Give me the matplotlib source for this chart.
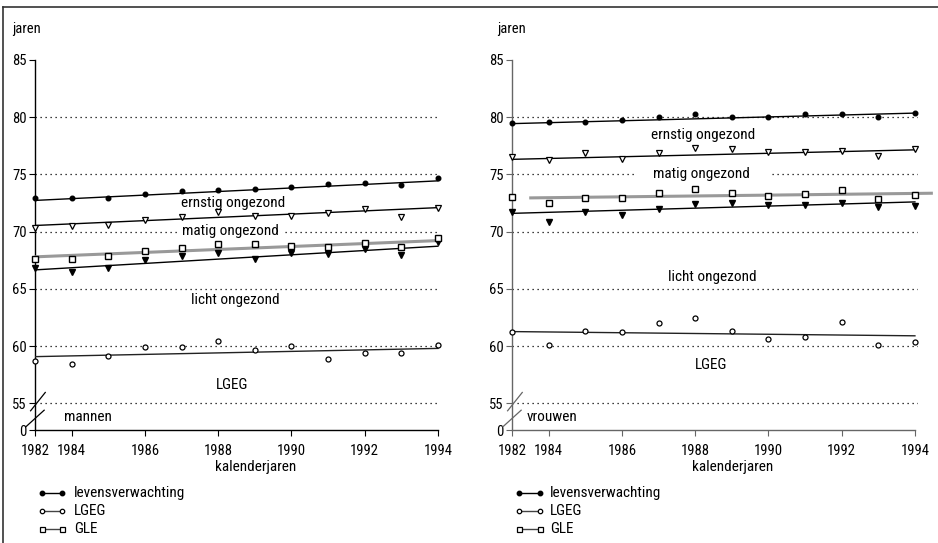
import matplotlib
matplotlib.use("Agg")
import matplotlib.pyplot as plt
from matplotlib.lines import Line2D
from matplotlib import font_manager

names = {f.name for f in font_manager.fontManager.ttflist}
chosen = 'Liberation Sans'
for cand in ['Roboto Condensed', 'Liberation Sans Narrow', 'Archivo Narrow', 'PT Sans Narrow']:
    if cand in names:
        chosen = cand
        break
plt.rcParams['font.family'] = [chosen, 'DejaVu Sans']

# ---------------- data ----------------
years = [1982, 1984, 1985, 1986, 1987, 1988, 1989, 1990, 1991, 1992, 1993, 1994]
tick_years = [1982, 1984, 1986, 1988, 1990, 1992, 1994]
ytick_values = [55, 60, 65, 70, 75, 80, 85]
grid_values = [55, 60, 65, 70, 75, 80]

men_le = [72.90, 72.98, 72.91, 73.25, 73.54, 73.63, 73.76, 73.87, 74.13, 74.25, 74.05, 74.68]
men_ernstig = [70.30, 70.50, 70.54, 70.98, 71.27, 71.72, 71.33, 71.39, 71.63, 71.98, 71.27, 72.07]
men_matig = [66.81, 66.48, 66.81, 67.49, 67.87, 68.11, 67.63, 68.17, 68.08, 68.52, 67.93, 69.06]
men_gle = [67.64, 67.58, 67.85, 68.29, 68.56, 68.88, 68.88, 68.76, 68.65, 69.00, 68.70, 69.44]
men_lgeg = [58.72, 58.40, 59.14, 59.96, 59.95, 60.48, 59.62, 60.00, 58.84, 59.43, 59.43, 60.13]

women_le = [79.50, 79.60, 79.60, 79.73, 80.06, 80.25, 80.05, 80.05, 80.26, 80.26, 80.03, 80.35]
women_ernstig = [76.53, 76.25, 76.84, 76.37, 76.85, 77.35, 77.18, 76.94, 76.94, 77.08, 76.63, 77.20]
women_matig = [71.70, 70.85, 71.70, 71.42, 72.01, 72.40, 72.52, 72.32, 72.30, 72.54, 72.13, 72.28]
women_gle = [73.00, 72.51, 72.92, 72.92, 73.42, 73.74, 73.42, 73.12, 73.25, 73.68, 72.86, 73.18]
women_lgeg = [61.22, 60.10, 61.34, 61.22, 62.00, 62.42, 61.34, 60.62, 60.82, 62.13, 60.10, 60.36]

# trend lines (value at first and last end)
men_trend = {'le': [72.73, 74.44], 'ernstig': [70.54, 72.10], 'matig': [66.66, 68.73],
             'gle': [67.80, 69.22], 'lgeg': [59.08, 59.80]}
women_trend = {'le': [79.44, 80.36], 'ernstig': [76.32, 77.15], 'matig': [71.60, 72.60],
               'gle': [72.95, 73.36], 'lgeg': [61.27, 60.90]}

# ---------------- figure ----------------
W, H = 938, 543
fig = plt.figure(figsize=(W / 100, H / 100), dpi=100)

YBOT = 52.67
FS = 10
LFS = 11

def px(x, y):
    return x / W, 1 - y / H

# border
fig.add_artist(Line2D([3 / W, 1], [1 - 7 / H, 1 - 7 / H], transform=fig.transFigure, color='#333333', lw=1.2))
fig.add_artist(Line2D([3 / W, 3 / W], [0, 1 - 7 / H], transform=fig.transFigure, color='#333333', lw=1.2))


def panel(left_px, xmax, spine_color, le, ern, mat, gle, lgeg, trend, gle_span, labels, sex_label):
    n = len(years)
    idx = list(range(n))
    width_px = xmax * 36.63
    ax = fig.add_axes([left_px / W, 113 / H, width_px / W, 370 / H])
    ax.set_xlim(0, xmax)
    ax.set_ylim(YBOT, 85)
    for s in ['top', 'right']:
        ax.spines[s].set_visible(False)
    ax.spines['left'].set_color(spine_color)
    ax.spines['bottom'].set_color(spine_color)
    ax.spines['left'].set_linewidth(1.0)
    ax.spines['bottom'].set_linewidth(1.0)
    ax.spines['bottom'].set_bounds(0, n - 1)
    ax.set_xticks([years.index(y) for y in tick_years])
    ax.set_xticklabels([str(y) for y in tick_years], fontsize=FS + 0.5)
    ax.set_yticks([YBOT] + ytick_values)
    ax.set_yticklabels(['0'] + [str(v) for v in ytick_values], fontsize=FS + 0.5)
    ax.tick_params(axis='both', length=4, width=0.8, color=spine_color, pad=2)
    ax.tick_params(axis='x', pad=6)
    ax.set_facecolor('none')

    for g in grid_values:
        ax.plot([0, xmax], [g, g], ls=(0, (1, 3)), color='black', lw=0.9, zorder=1)

    # trend lines
    end = n - 1
    ax.plot([0, end], trend['le'], color='black', lw=1.0, zorder=3)
    ax.plot([0, end], trend['ernstig'], color='black', lw=1.0, zorder=3)
    ax.plot([0, end], trend['matig'], color='black', lw=1.0, zorder=3)
    ax.plot(gle_span, trend['gle'], color='#999999', lw=2.2, zorder=3, solid_capstyle='butt', clip_on=False)
    ax.plot([0, end], trend['lgeg'], color='#222222', lw=1.0, zorder=3)

    ax.plot(idx, le, 'o', ms=3.3, color='black', zorder=5, clip_on=False)
    ax.plot(idx, ern, 'v', ms=3.8, mfc='white', mec='black', mew=0.9, zorder=5, clip_on=False)
    ax.plot(idx, mat, 'v', ms=3.8, color='black', zorder=5, clip_on=False)
    ax.plot(idx, gle, 's', ms=4.4, mfc='white', mec='black', mew=1.0, zorder=5, clip_on=False)
    ax.plot(idx, lgeg, 'o', ms=3.6, mfc='white', mec='black', mew=0.9, zorder=5, clip_on=False)

    for (txt, x, y, pad) in labels:
        kw = {}
        if pad is not None:
            kw['bbox'] = dict(facecolor='white', edgecolor='none', pad=pad)
        ax.text(x, y, txt, ha='center', va='center', fontsize=LFS, zorder=2, **kw)
    ax.text(sex_label[0], 53.83, sex_label[1], ha='left', va='center', fontsize=LFS)

    # axis break marks
    for (x0, y0, x1, y1) in [(-0.12, 54.35, 0.28, 55.95), (-0.25, 52.95, 0.25, 54.4)]:
        ax.plot([x0, x1], [y0, y1], color=spine_color, lw=0.9, clip_on=False, zorder=6)
    return ax


axL = panel(35, 11.05, 'black', men_le, men_ernstig, men_matig, men_gle, men_lgeg, men_trend, [0, 11],
            [('ernstig ongezond', 5.4, 72.5, None), ('matig ongezond', 5.33, 70.1, 3),
             ('licht ongezond', 5.48, 64.0, None), ('LGEG', 5.39, 56.6, None)], (0.79, 'mannen'))
axR = panel(512, 11.08, '#666666', women_le, women_ernstig, women_matig, women_gle, women_lgeg, women_trend, [0.47, 11.49],
            [('ernstig ongezond', 5.23, 78.45, None), ('matig ongezond', 5.17, 75.0, 14),
             ('licht ongezond', 5.46, 66.0, None), ('LGEG', 5.43, 58.34, None)], (0.4, 'vrouwen'))

# y-axis title and x-axis title
for xl in [12, 497]:
    fig.text(*px(xl, 29), 'jaren', ha='left', va='center', fontsize=LFS - 0.5)
for xc in [256, 733]:
    fig.text(*px(xc, 467), 'kalenderjaren', ha='center', va='center', fontsize=LFS)

# legends
leg_items = [('levensverwachting', dict(marker='o', ms=3.2, mfc='black', mec='black'), 'black'),
             ('LGEG', dict(marker='o', ms=3.2, mfc='white', mec='black', mew=0.9), '#444444'),
             ('GLE', dict(marker='s', ms=3.6, mfc='white', mec='black', mew=0.9), '#444444')]
for (x0, x1, xt) in [(42, 62, 74), (519, 540, 550)]:
    for i, (lab, mk, lc) in enumerate(leg_items):
        y = 493 + i * 17.8
        fig.add_artist(Line2D([x0 / W, x1 / W], [1 - y / H, 1 - y / H], transform=fig.transFigure,
                              color=lc, lw=1.0, **mk))
        fig.text(*px(xt, y), lab, ha='left', va='center', fontsize=LFS)

fig.savefig('out.png', dpi=100)
